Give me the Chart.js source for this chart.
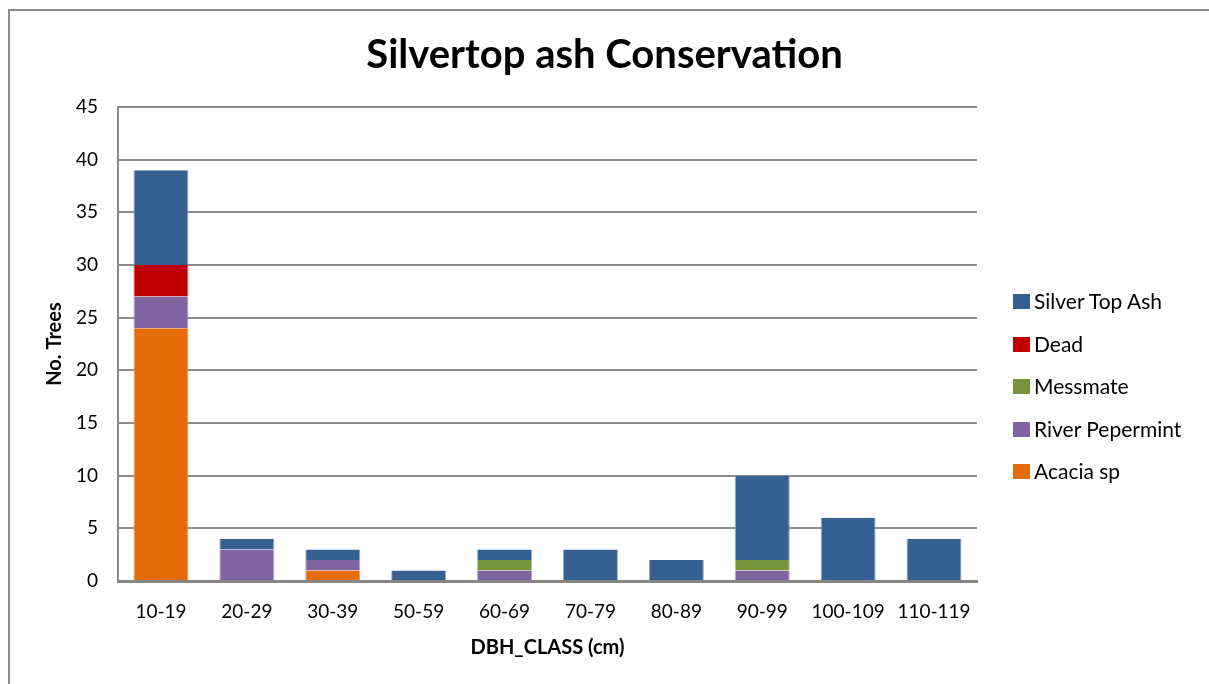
<!DOCTYPE html>
<html>
<head>
<meta charset="utf-8">
<script src="https://cdn.jsdelivr.net/npm/chart.js@4/dist/chart.umd.min.js"></script>
<style>
  html, body { margin: 0; padding: 0; background: #fff; }
  #wrap { position: relative; width: 1209px; height: 684px; overflow: hidden; }
  #frame { position: absolute; left: 8px; top: 9px; width: 1300px; height: 800px;
           border-left: 2px solid #8c8c8c; border-top: 2px solid #8c8c8c; }
  #chart { position: absolute; left: 0; top: 0; }
  #legend { position: absolute; left: 1013px; top: 288px; font-family: Lato, sans-serif;
            font-size: 21px; line-height: 26px; color: #000; }
  #legend .item { height: 42.5px; display: flex; align-items: flex-start; }
  #legend .box { width: 17px; height: 15px; margin-right: 4px; margin-top: 6px; }
</style>
</head>
<body>
<div id="wrap">
  <div id="frame"></div>
  <canvas id="chart" width="1209" height="684"></canvas>
  <div id="legend"></div>
</div>
<script>
var classes = ['10-19', '20-29', '30-39', '50-59', '60-69', '70-79', '80-89', '90-99', '100-109', '110-119'];
var acacia = [24, 0, 1, 0, 0, 0, 0, 0, 0, 0];
var riverPepermint = [3, 3, 1, 0, 1, 0, 0, 1, 0, 0];
var messmate = [0, 0, 0, 0, 1, 0, 0, 1, 0, 0];
var dead = [3, 0, 0, 0, 0, 0, 0, 0, 0, 0];
var silverTopAsh = [9, 1, 1, 1, 1, 3, 2, 8, 6, 4];

function ds(label, data, color, edge) {
    return {
        label: label,
        data: data,
        backgroundColor: color,
        borderColor: edge,
        borderWidth: { left: 1, right: 1, top: 0, bottom: 0 },
        borderSkipped: false,
        barPercentage: 0.64,
        categoryPercentage: 1.0
    };
}

var chart = new Chart(document.getElementById('chart'), {
    type: 'bar',
    data: {
        labels: classes,
        datasets: [
            ds('Acacia sp', acacia, '#E46C0A', '#F0A36A'),
            ds('River Pepermint', riverPepermint, '#8064A2', '#B3A2C7'),
            ds('Messmate', messmate, '#77933C', '#AFC38A'),
            ds('Dead', dead, '#C00000', '#D96666'),
            ds('Silver Top Ash', silverTopAsh, '#366092', '#8EA9CC')
        ]
    },
    options: {
        responsive: false,
        animation: false,
        layout: { padding: { left: 0, right: 0, top: 0, bottom: 20 } },
        plugins: {
            legend: { display: false },
            tooltip: { enabled: false },
            title: {
                display: true,
                text: 'Silvertop ash Conservation',
                color: '#000',
                font: { family: 'Lato, sans-serif', size: 40, weight: 'bold', lineHeight: 1.2 },
                padding: { top: 31, bottom: 28 }
            }
        },
        scales: {
            x: {
                stacked: true,
                grid: { display: false, drawTicks: false },
                border: { color: '#868686', width: 3 },
                ticks: { color: '#000', font: { family: 'Lato, sans-serif', size: 19 }, padding: 19, maxRotation: 0 },
                title: { display: true, text: 'DBH_CLASS (cm)', color: '#000',
                         font: { family: 'Lato, sans-serif', size: 20, weight: 'bold' }, padding: { top: 10 } },
                afterFit: function (s) { s.height = 83; }
            },
            y: {
                stacked: true,
                min: 0,
                max: 45,
                grid: { color: '#8c8c8c', lineWidth: 2, drawTicks: false },
                border: { color: '#8c8c8c', width: 2 },
                ticks: { stepSize: 5, color: '#000', font: { family: 'Lato, sans-serif', size: 19 }, padding: 20 },
                title: { display: true, text: 'No. Trees', color: '#000',
                         font: { family: 'Lato, sans-serif', size: 20, weight: 'bold' }, padding: { top: 43 } },
                afterFit: function (s) { s.width = 118; }
            },
            pad: {
                position: 'right',
                display: true,
                grid: { display: false, drawTicks: false },
                border: { display: false },
                ticks: { display: false },
                afterFit: function (s) { s.width = 232; }
            }
        }
    }
});

var legend = document.getElementById('legend');
chart.data.datasets.slice().reverse().forEach(function (d) {
    var item = document.createElement('div');
    item.className = 'item';
    var box = document.createElement('span');
    box.className = 'box';
    box.style.background = d.backgroundColor;
    var txt = document.createElement('span');
    txt.textContent = d.label;
    item.appendChild(box);
    item.appendChild(txt);
    legend.appendChild(item);
});
</script>
</body>
</html>
